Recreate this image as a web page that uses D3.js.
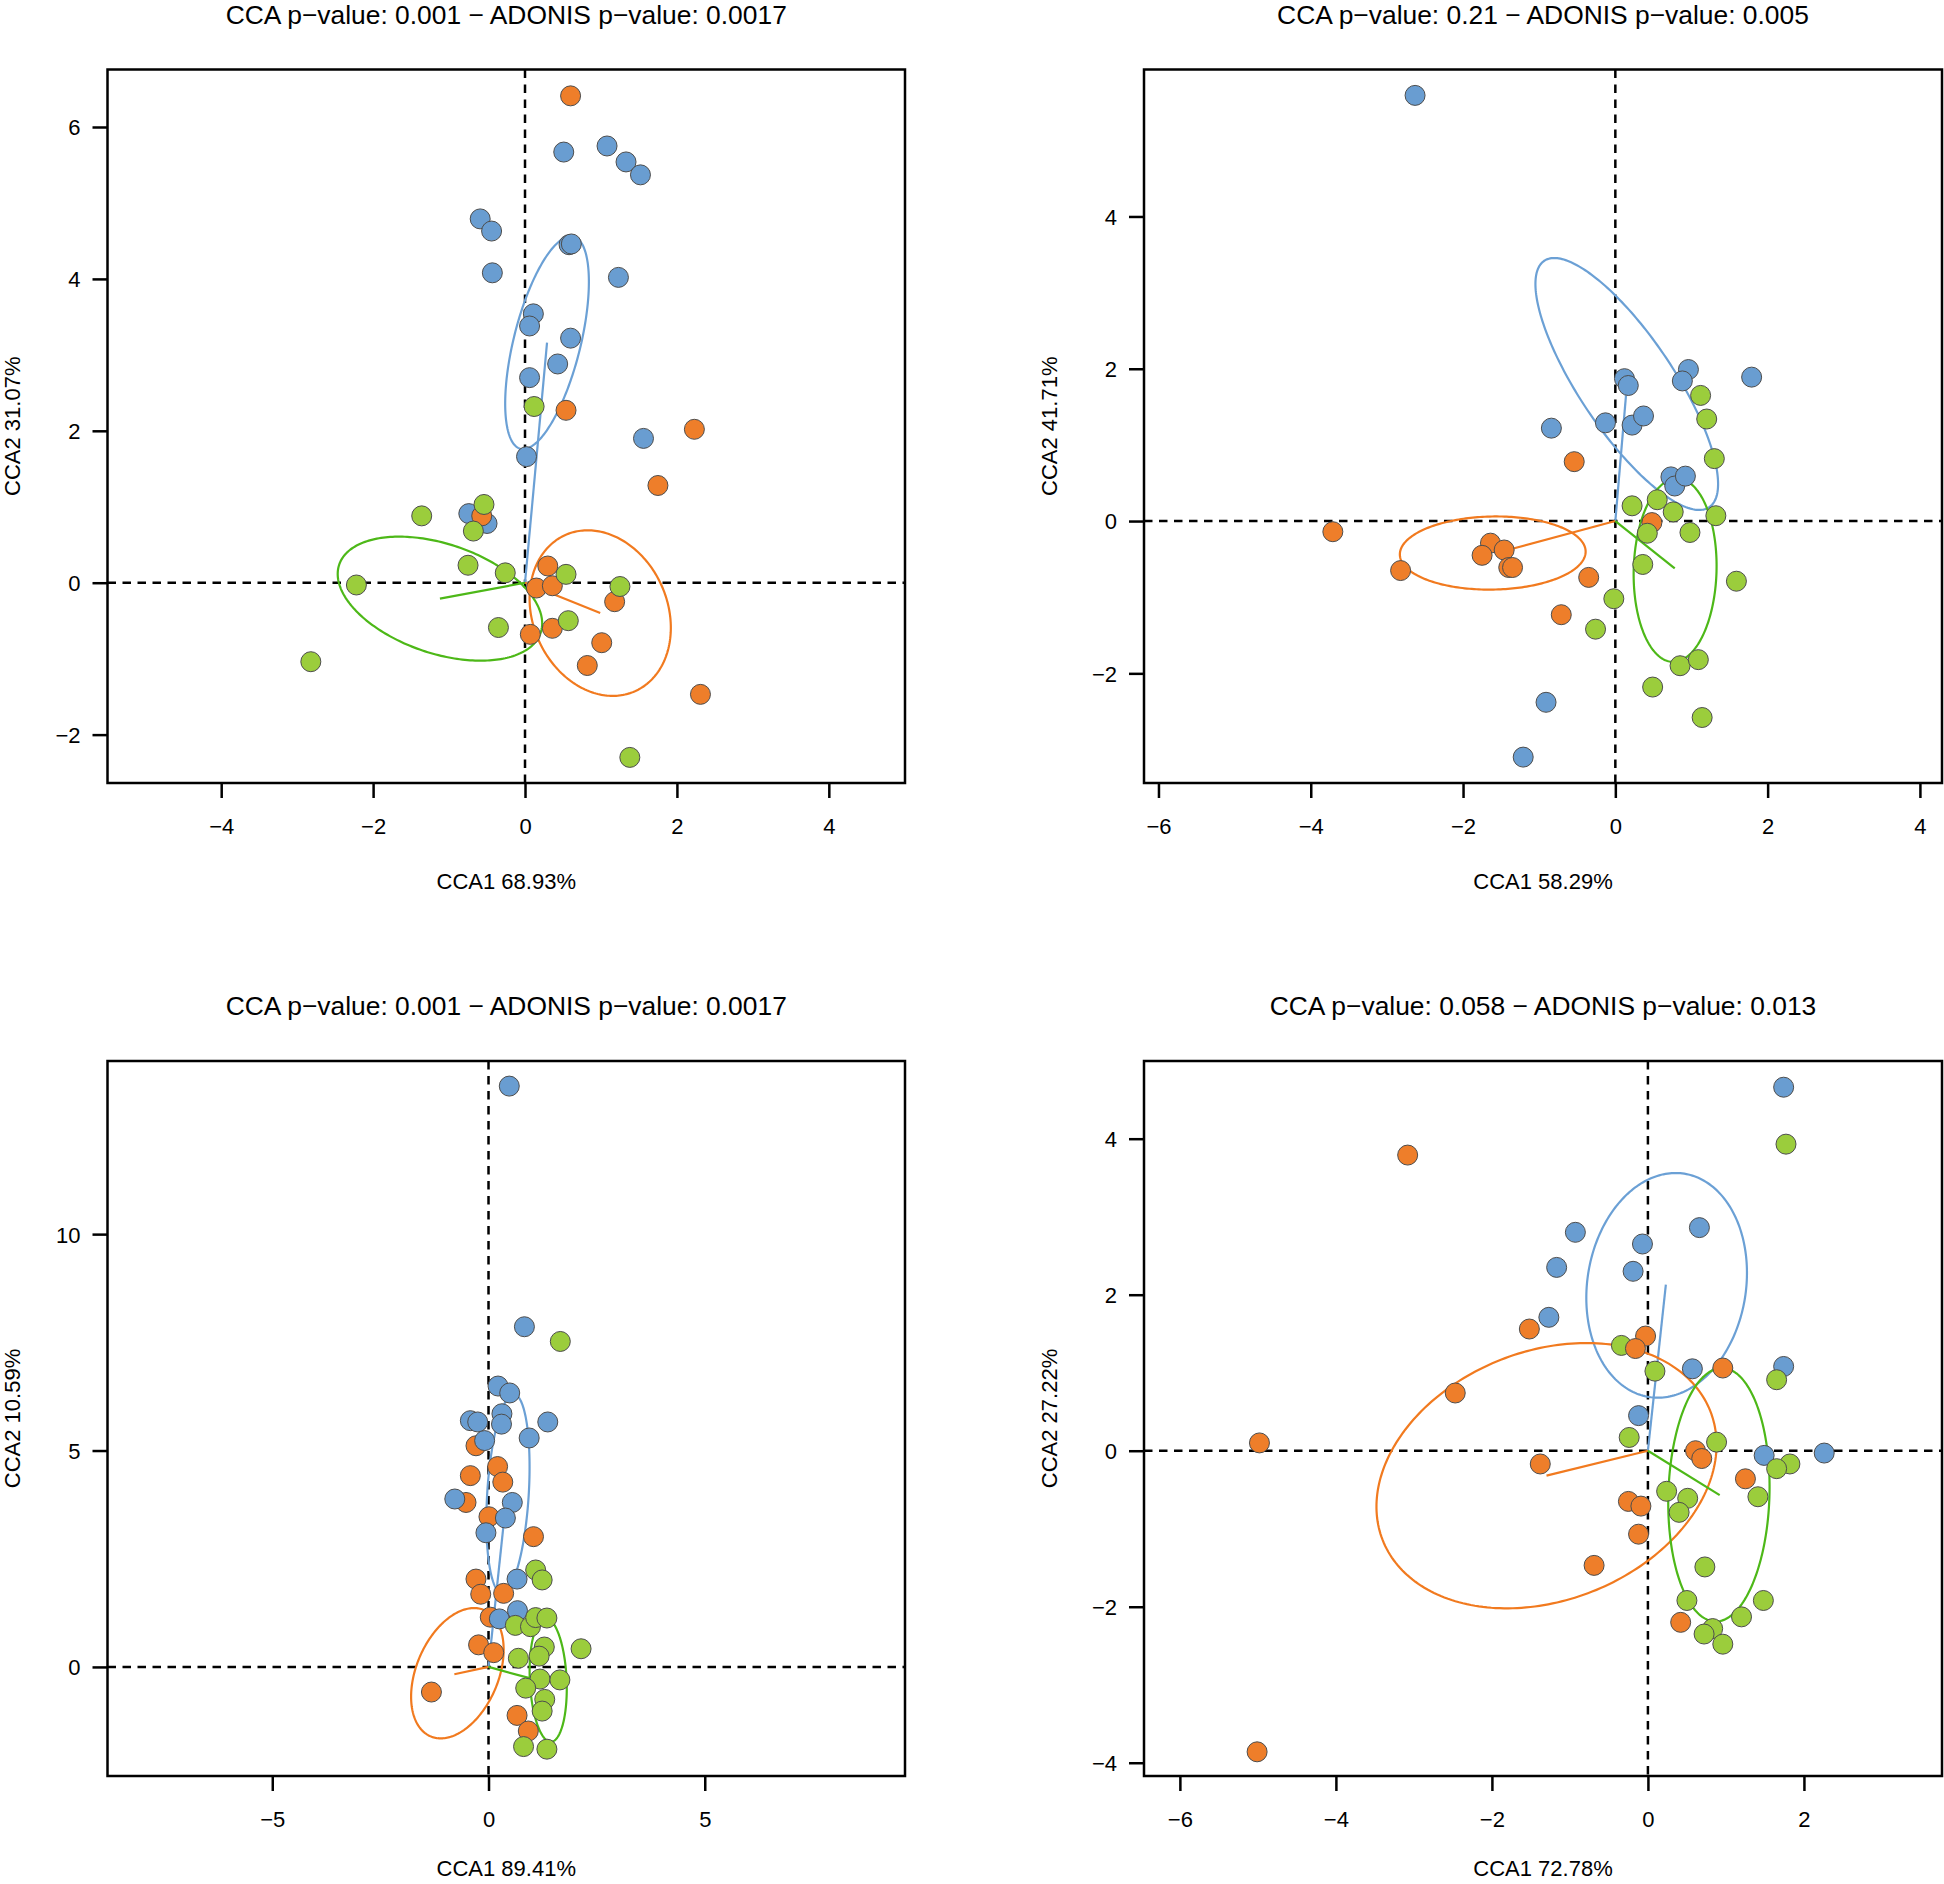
<!DOCTYPE html>
<html><head><meta charset="utf-8">
<script src="https://cdn.jsdelivr.net/npm/d3@7"></script>
<style>
body{margin:0;background:#fff}
svg{display:block}
text{font-family:"Liberation Sans",Arial,Helvetica,sans-serif;fill:#000}
</style>
</head><body>
<svg id="c" width="1944" height="1884"></svg>
<script>
// ---------------- data ----------------
const titles = [
  "CCA p\u2212value: 0.001 \u2212 ADONIS p\u2212value: 0.0017",
  "CCA p\u2212value: 0.21 \u2212 ADONIS p\u2212value: 0.005",
  "CCA p\u2212value: 0.001 \u2212 ADONIS p\u2212value: 0.0017",
  "CCA p\u2212value: 0.058 \u2212 ADONIS p\u2212value: 0.013"
];
const xLabels = ["CCA1 68.93%", "CCA1 58.29%", "CCA1 89.41%", "CCA1 72.78%"];
const yLabels = ["CCA2 31.07%", "CCA2 41.71%", "CCA2 10.59%", "CCA2 27.22%"];
const xTicks = [[-4,-2,0,2,4], [-6,-4,-2,0,2,4], [-5,0,5], [-6,-4,-2,0,2]];
const yTicks = [[-2,0,2,4,6], [-2,0,2,4], [0,5,10], [-4,-2,0,2,4]];
const xDomains = [[-5.497,5.003], [-6.19,4.29], [-8.81,9.63], [-6.46,3.77]];
const yDomains = [[-2.637,6.757], [-3.44,5.93], [-2.52,14.0], [-4.17,4.996]];

const p1Blue = [[0.51,5.67],[1.08,5.75],[1.33,5.54],[1.52,5.37],[-0.59,4.79],[-0.44,4.63],[0.58,4.45],[0.61,4.46],[-0.43,4.08],[1.23,4.02],[0.11,3.54],[0.06,3.38],[0.60,3.22],[0.43,2.88],[0.06,2.70],[1.56,1.90],[0.02,1.66],[-0.74,0.91],[-0.50,0.78]];
const p1Orange = [[0.60,6.41],[0.54,2.27],[2.23,2.02],[1.75,1.28],[-0.57,0.88],[0.30,0.22],[0.15,-0.07],[0.36,-0.04],[1.18,-0.25],[0.07,-0.68],[0.36,-0.60],[1.01,-0.79],[0.82,-1.09],[2.31,-1.47]];
const p1Green = [[0.12,2.32],[-1.36,0.88],[-0.54,1.03],[-0.68,0.68],[-0.75,0.23],[-0.26,0.13],[-2.22,-0.03],[0.54,0.11],[1.25,-0.05],[-0.35,-0.59],[0.57,-0.50],[-2.82,-1.04],[1.38,-2.30]];

const p2Blue = [[0.12,1.87],[0.17,1.78],[0.96,1.99],[0.88,1.84],[1.79,1.89],[-0.84,1.22],[-0.13,1.29],[0.22,1.26],[0.37,1.38],[0.73,0.58],[0.78,0.46],[0.92,0.59],[-0.91,-2.38],[-1.21,-3.10],[-2.63,5.59]];
const p2Orange = [[-0.54,0.78],[0.48,-0.02],[-3.71,-0.14],[-1.64,-0.29],[-1.46,-0.38],[-1.75,-0.45],[-1.40,-0.61],[-1.35,-0.61],[-2.82,-0.65],[-0.35,-0.74],[-0.71,-1.23]];
const p2Green = [[1.12,1.65],[1.20,1.34],[1.30,0.82],[0.22,0.20],[0.55,0.28],[0.76,0.12],[1.32,0.07],[0.42,-0.16],[0.98,-0.15],[0.36,-0.57],[1.59,-0.79],[-0.02,-1.02],[-0.26,-1.42],[0.85,-1.90],[1.09,-1.82],[0.49,-2.18],[1.14,-2.58]];

const p3Blue = [[0.48,13.42],[0.83,7.86],[0.22,6.49],[0.49,6.33],[-0.42,5.69],[-0.25,5.66],[0.31,5.85],[0.30,5.61],[1.37,5.66],[-0.09,5.23],[0.94,5.29],[-0.78,3.88],[0.55,3.80],[0.39,3.44],[-0.06,3.10],[0.66,2.03],[0.67,1.30],[0.25,1.11]];
const p3Orange = [[-0.29,5.11],[0.21,4.63],[-0.42,4.42],[0.33,4.27],[-0.52,3.80],[0.01,3.47],[1.04,3.01],[-0.29,2.03],[-0.18,1.68],[0.35,1.70],[0.04,1.15],[-0.23,0.51],[0.12,0.33],[-1.32,-0.58],[0.66,-1.12],[0.92,-1.48]];
const p3Green = [[1.66,7.52],[1.09,2.24],[1.24,2.01],[0.62,0.96],[0.97,0.93],[1.09,1.14],[1.35,1.13],[1.29,0.46],[1.17,0.25],[0.69,0.20],[2.14,0.42],[1.19,-0.28],[1.65,-0.30],[0.86,-0.49],[1.30,-0.75],[1.24,-1.02],[0.81,-1.84],[1.35,-1.90]];

const p4Blue = [[1.74,4.66],[-0.93,2.80],[0.66,2.86],[-0.07,2.65],[-1.17,2.35],[-0.19,2.30],[-1.27,1.71],[0.57,1.05],[1.74,1.08],[-0.12,0.45],[1.49,-0.06],[2.26,-0.03]];
const p4Orange = [[-3.08,3.79],[-4.98,0.10],[-5.01,-3.86],[-1.52,1.56],[-0.03,1.47],[-0.16,1.31],[0.96,1.06],[-2.47,0.74],[0.61,0.00],[0.69,-0.10],[-1.38,-0.17],[1.25,-0.36],[-0.25,-0.65],[-0.09,-0.71],[-0.12,-1.07],[-0.69,-1.47],[0.42,-2.20]];
const p4Green = [[1.77,3.93],[-0.34,1.35],[0.09,1.02],[1.65,0.91],[-0.24,0.17],[0.88,0.11],[1.82,-0.17],[1.65,-0.23],[1.41,-0.59],[0.24,-0.52],[0.51,-0.61],[0.40,-0.79],[0.73,-1.49],[0.50,-1.92],[1.48,-1.92],[1.20,-2.13],[0.83,-2.28],[0.72,-2.35],[0.96,-2.48]];

// group ellipses: centre, semi-axes, rotation (deg); spider tip from origin
const p1Ellipses = [
  {g:"blue",   cx:0.29,  cy:3.16,  a:1.44,  b:0.44,  rot:76,    tx:0.29,  ty:3.16},
  {g:"orange", cx:0.99,  cy:-0.40, a:1.126, b:0.886, rot:114,   tx:0.99,  ty:-0.40},
  {g:"green",  cx:-1.12, cy:-0.21, a:1.40,  b:0.72,  rot:-18.7, tx:-1.12, ty:-0.21}
];
const p2Ellipses = [
  {g:"blue",   cx:0.15,  cy:1.80,  a:1.947, b:0.62,  rot:-56.2, tx:0.14,  ty:1.65},
  {g:"orange", cx:-1.61, cy:-0.42, a:1.22,  b:0.48,  rot:1,     tx:-1.34, ty:-0.36},
  {g:"green",  cx:0.785, cy:-0.645,a:1.205, b:0.544, rot:88.5,  tx:0.78,  ty:-0.62}
];
const p3Ellipses = [
  {g:"blue",   cx:0.45,  cy:4.0,   a:2.30,  b:0.48,  rot:86.5,  tx:0.36,  ty:3.40},
  {g:"orange", cx:-0.72, cy:-0.145,a:1.585, b:0.948, rot:67,    tx:-0.79, ty:-0.17},
  {g:"green",  cx:1.38,  cy:-0.30, a:1.431, b:0.425, rot:92.6,  tx:0.95,  ty:-0.26}
];
const p4Ellipses = [
  {g:"blue",   cx:0.24,  cy:2.12,  a:1.449, b:1.017, rot:81,    tx:0.23,  ty:2.13},
  {g:"orange", cx:-1.30, cy:-0.32, a:2.257, b:1.597, rot:21.5,  tx:-1.30, ty:-0.32},
  {g:"green",  cx:0.91,  cy:-0.565,a:1.625, b:0.648, rot:88.3,  tx:0.92,  ty:-0.57}
];

// ---------------- styles / layout ----------------
const fillCol = {blue:"#699DD1", orange:"#EE7E2A", green:"#9BCD3C"};
const lineCol = {blue:"#6BA0D5", orange:"#F17A1F", green:"#4DB818"};
const boxes = [
  {l:107.5, t:69.5, r:905,  b:783,  xlab:106},
  {l:1144,  t:69.5, r:1942, b:783,  xlab:106},
  {l:107.5, t:1061, r:905,  b:1776, xlab:100},
  {l:1144,  t:1061, r:1942, b:1776, xlab:100}
];
const pointSets = [
  {blue:p1Blue, orange:p1Orange, green:p1Green},
  {blue:p2Blue, orange:p2Orange, green:p2Green},
  {blue:p3Blue, orange:p3Orange, green:p3Green},
  {blue:p4Blue, orange:p4Orange, green:p4Green}
];
const ellipseSets = [p1Ellipses, p2Ellipses, p3Ellipses, p4Ellipses];
const drawOrders = [
  ["blue","orange","green"],
  ["blue","orange","green"],
  ["orange","blue","green"],
  ["blue","green","orange"]
];

const svg = d3.select("#c");
const FS = 22, FT = 26.4;

boxes.forEach((bx, i) => {
  const x = d3.scaleLinear().domain(xDomains[i]).range([bx.l, bx.r]);
  const y = d3.scaleLinear().domain(yDomains[i]).range([bx.b, bx.t]);
  const g = svg.append("g");

  const clipId = "clip" + i;
  g.append("clipPath").attr("id", clipId).append("rect")
    .attr("x", bx.l).attr("y", bx.t).attr("width", bx.r - bx.l).attr("height", bx.b - bx.t);
  const plot = g.append("g").attr("clip-path", `url(#${clipId})`);

  // dashed zero lines
  plot.append("line").attr("x1", x(0)).attr("x2", x(0)).attr("y1", bx.t).attr("y2", bx.b)
    .attr("stroke", "#000").attr("stroke-width", 2.5).attr("stroke-dasharray", "8.5,6.5");
  plot.append("line").attr("y1", y(0)).attr("y2", y(0)).attr("x1", bx.l).attr("x2", bx.r)
    .attr("stroke", "#000").attr("stroke-width", 2.5).attr("stroke-dasharray", "8.5,6.5");

  // ellipses and spider lines
  const line = d3.line().x(d => x(d[0])).y(d => y(d[1])).curve(d3.curveLinearClosed);
  ellipseSets[i].forEach(e => {
    const th = e.rot * Math.PI / 180;
    const pts = d3.range(0, 240).map(k => {
      const t = k / 240 * 2 * Math.PI;
      const u = e.a * Math.cos(t), v = e.b * Math.sin(t);
      return [e.cx + u * Math.cos(th) - v * Math.sin(th), e.cy + u * Math.sin(th) + v * Math.cos(th)];
    });
    plot.append("path").attr("d", line(pts)).attr("fill", "none")
      .attr("stroke", lineCol[e.g]).attr("stroke-width", 2.2);
    plot.append("line").attr("x1", x(0)).attr("y1", y(0)).attr("x2", x(e.tx)).attr("y2", y(e.ty))
      .attr("stroke", lineCol[e.g]).attr("stroke-width", 2.2);
  });

  // points
  drawOrders[i].forEach(grp => {
    plot.append("g").selectAll("circle").data(pointSets[i][grp]).join("circle")
      .attr("cx", d => x(d[0])).attr("cy", d => y(d[1])).attr("r", 10)
      .attr("fill", fillCol[grp]).attr("stroke", "#4d4d4d").attr("stroke-width", 1);
  });

  // box
  g.append("rect").attr("x", bx.l).attr("y", bx.t).attr("width", bx.r - bx.l).attr("height", bx.b - bx.t)
    .attr("fill", "none").attr("stroke", "#000").attr("stroke-width", 2.5);

  // axes
  const ax = g.append("g").attr("transform", `translate(0,${bx.b})`)
    .call(d3.axisBottom(x).tickValues(xTicks[i]).tickSize(15).tickSizeOuter(0));
  ax.select(".domain").remove();
  ax.selectAll(".tick line").attr("stroke", "#000").attr("stroke-width", 2.5);
  ax.selectAll(".tick text").attr("y", 51).attr("dy", null)
    .attr("font-size", FS).attr("font-family", "Liberation Sans, Arial, sans-serif");

  const ay = g.append("g").attr("transform", `translate(${bx.l},0)`)
    .call(d3.axisLeft(y).tickValues(yTicks[i]).tickSize(15).tickSizeOuter(0));
  ay.select(".domain").remove();
  ay.selectAll(".tick line").attr("stroke", "#000").attr("stroke-width", 2.5);
  ay.selectAll(".tick text").attr("x", -27).attr("dy", "0.36em")
    .attr("font-size", FS).attr("font-family", "Liberation Sans, Arial, sans-serif");

  // titles and labels
  g.append("text").attr("x", (bx.l + bx.r) / 2).attr("y", bx.t - 46)
    .attr("text-anchor", "middle").attr("font-size", FT).text(titles[i]);
  g.append("text").attr("x", (bx.l + bx.r) / 2).attr("y", bx.b + bx.xlab)
    .attr("text-anchor", "middle").attr("font-size", FS).text(xLabels[i]);
  g.append("text").attr("transform", `translate(${bx.l - 87.5},${(bx.t + bx.b) / 2}) rotate(-90)`)
    .attr("text-anchor", "middle").attr("font-size", FS).text(yLabels[i]);
});
</script>
</body></html>
